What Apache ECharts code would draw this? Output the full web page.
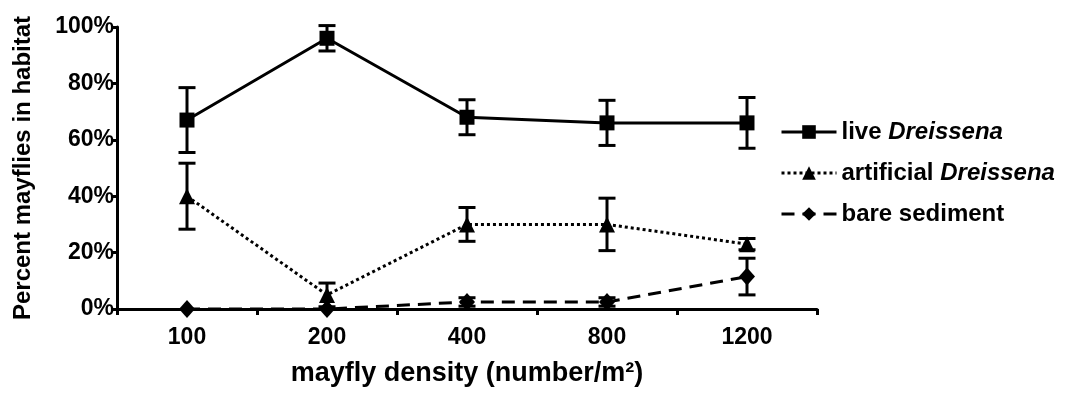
<!DOCTYPE html>
<html>
<head>
<meta charset="utf-8">
<script src="https://cdn.jsdelivr.net/npm/echarts@6/dist/echarts.min.js"></script>
<style>
html,body{margin:0;padding:0;background:#fff;}
#c{width:1065px;height:394px;}
</style>
</head>
<body>
<div id="c"></div>
<script>
const categories = ['100', '200', '400', '800', '1200'];
const liveMean = [67, 96, 68, 66, 66];
const liveErr = [11.5, 4.5, 6.2, 8, 9];
const artMean = [40, 5, 30, 30, 23];
const artErr = [11.7, 4.2, 6, 9.3, 2];
const bareMean = [0, 0, 2.5, 2.5, 11.5];
const bareErr = [0, 0, 1.5, 1.5, 6.5];
const yTicks = [0, 20, 40, 60, 80, 100];

const FONT = "'Liberation Sans', Arial, sans-serif";

function errData(mean, err) {
  return mean.map((m, i) => [i, m - err[i], m + err[i]]);
}
function errSeries(mean, err) {
  return {
    type: 'custom',
    data: errData(mean, err),
    encode: { x: 0, y: [1, 2] },
    z: 3,
    silent: true,
    renderItem: function (params, api) {
      const lo = api.coord([api.value(0), api.value(1)]);
      const hi = api.coord([api.value(0), api.value(2)]);
      if (Math.abs(lo[1] - hi[1]) < 0.5) return null;
      const w = 8.5;
      const st = { stroke: '#000', lineWidth: 3 };
      return {
        type: 'group',
        children: [
          { type: 'line', shape: { x1: lo[0], y1: lo[1], x2: hi[0], y2: hi[1] }, style: st },
          { type: 'line', shape: { x1: lo[0] - w, y1: lo[1], x2: lo[0] + w, y2: lo[1] }, style: st },
          { type: 'line', shape: { x1: hi[0] - w, y1: hi[1], x2: hi[0] + w, y2: hi[1] }, style: st }
        ]
      };
    }
  };
}

const chart = echarts.init(document.getElementById('c'));
chart.setOption({
  animation: false,
  backgroundColor: '#fff',
  grid: { left: 117, right: 248, top: 27, bottom: 85, containLabel: false },
  xAxis: {
    type: 'category',
    data: categories,
    boundaryGap: true,
    name: 'mayfly density (number/m²)',
    nameLocation: 'middle',
    nameGap: 51,
    nameTextStyle: { fontFamily: FONT, fontWeight: 'bold', fontSize: 27, color: '#000' },
    axisLine: { lineStyle: { color: '#000', width: 3 } },
    axisTick: { show: true, length: 6, lineStyle: { color: '#000', width: 3 } },
    axisLabel: { fontFamily: FONT, fontWeight: 'bold', fontSize: 23, color: '#000', margin: 17 },
    splitLine: { show: false }
  },
  yAxis: {
    type: 'value',
    min: 0,
    max: 100,
    interval: 20,
    name: 'Percent mayflies in habitat',
    nameLocation: 'middle',
    nameGap: 82,
    nameTextStyle: { fontFamily: FONT, fontWeight: 'bold', fontSize: 24, color: '#000' },
    axisLine: { show: true, lineStyle: { color: '#000', width: 3 } },
    axisTick: { show: true, length: 6, lineStyle: { color: '#000', width: 3 } },
    axisLabel: {
      fontFamily: FONT, fontWeight: 'bold', fontSize: 23, color: '#000', margin: 3,
      formatter: function (v) { return yTicks.indexOf(v) >= 0 ? v + '%' : ''; }
    },
    splitLine: { show: false }
  },
  legend: {
    orient: 'vertical',
    left: 775,
    top: 115,
    itemWidth: 55,
    itemHeight: 17,
    itemGap: 17,
    lineStyle: { width: 3 },
    data: ['live', 'artificial', 'bare'],
    formatter: function (name) {
      if (name === 'live') return '{b|live }{i|Dreissena}';
      if (name === 'artificial') return '{b|artificial }{i|Dreissena}';
      return '{b|bare sediment}';
    },
    textStyle: {
      color: '#000',
      rich: {
        b: { fontFamily: FONT, fontWeight: 'bold', fontSize: 24, lineHeight: 27, color: '#000' },
        i: { fontFamily: FONT, fontWeight: 'bold', fontStyle: 'italic', fontSize: 24, lineHeight: 27, color: '#000' }
      }
    }
  },
  series: [
    errSeries(liveMean, liveErr),
    errSeries(artMean, artErr),
    errSeries(bareMean, bareErr),
    {
      name: 'live', type: 'line', data: liveMean, z: 4,
      symbol: 'rect', symbolSize: 15,
      lineStyle: { color: '#000', width: 3, type: 'solid' },
      itemStyle: { color: '#000' }
    },
    {
      name: 'artificial', type: 'line', data: artMean, z: 4,
      symbol: 'triangle', symbolSize: 16,
      lineStyle: { color: '#000', width: 3, type: [3, 3] },
      itemStyle: { color: '#000' }
    },
    {
      name: 'bare', type: 'line', data: bareMean, z: 4,
      symbol: 'diamond', symbolSize: [16, 18],
      lineStyle: { color: '#000', width: 3, type: [13, 8] },
      itemStyle: { color: '#000' }
    }
  ]
});
</script>
</body>
</html>
